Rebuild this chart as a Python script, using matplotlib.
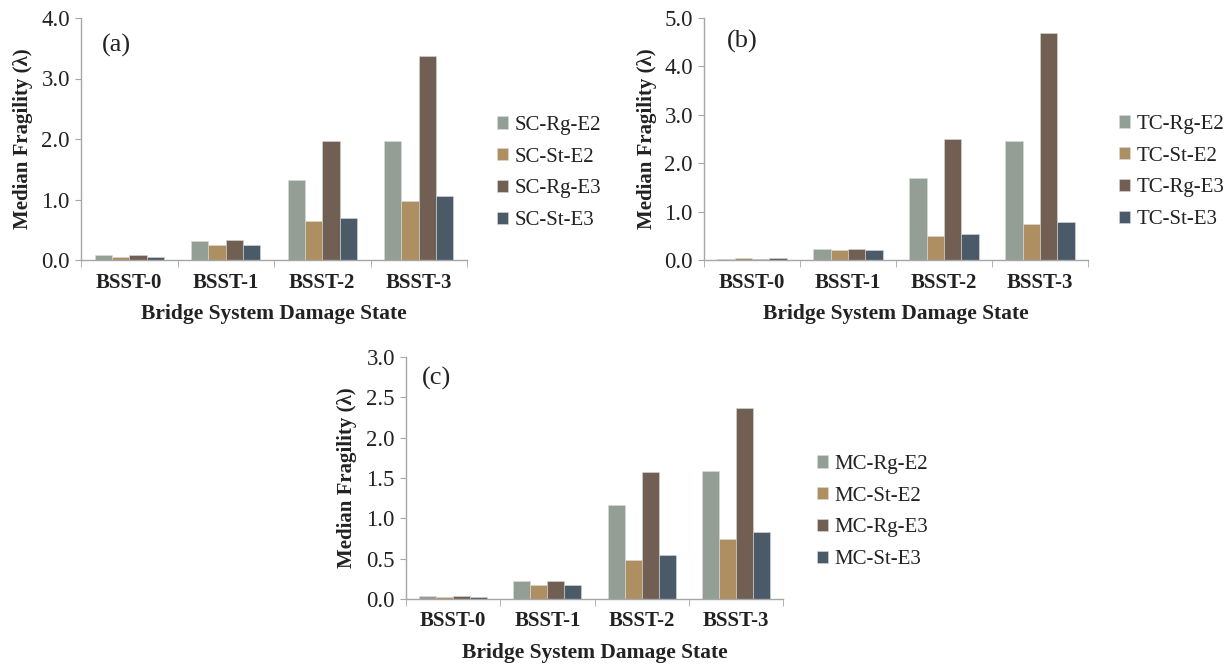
import matplotlib.pyplot as plt
import numpy as np

plt.rcParams['font.family'] = ['Liberation Serif', 'DejaVu Serif']

states = ['BSST-0', 'BSST-1', 'BSST-2', 'BSST-3']
colors = ['#939f94', '#ae8f62', '#715f53', '#4b5a69']

# ======= (a) single column ======= #
sc_names = ['SC-Rg-E2', 'SC-St-E2', 'SC-Rg-E3', 'SC-St-E3']
sc_rg_e2 = [0.08, 0.31, 1.32, 1.97]
sc_st_e2 = [0.05, 0.25, 0.64, 0.97]
sc_rg_e3 = [0.08, 0.33, 1.96, 3.37]
sc_st_e3 = [0.05, 0.25, 0.70, 1.06]

# ======= (b) two column ======= #
tc_names = ['TC-Rg-E2', 'TC-St-E2', 'TC-Rg-E3', 'TC-St-E3']
tc_rg_e2 = [0.03, 0.22, 1.69, 2.46]
tc_st_e2 = [0.05, 0.20, 0.49, 0.74]
tc_rg_e3 = [0.03, 0.22, 2.51, 4.68]
tc_st_e3 = [0.05, 0.20, 0.53, 0.79]

# ======= (c) multi column ======= #
mc_names = ['MC-Rg-E2', 'MC-St-E2', 'MC-Rg-E3', 'MC-St-E3']
mc_rg_e2 = [0.04, 0.22, 1.16, 1.59]
mc_st_e2 = [0.02, 0.17, 0.48, 0.75]
mc_rg_e3 = [0.04, 0.22, 1.58, 2.37]
mc_st_e3 = [0.02, 0.17, 0.54, 0.83]

fig = plt.figure(figsize=(12.26, 6.68), dpi=100)

W, H = 1226.0, 668.0
# pixel boxes: left, top, right, bottom
panels = [
    dict(box=(81, 18, 467, 260), names=sc_names, data=[sc_rg_e2, sc_st_e2, sc_rg_e3, sc_st_e3],
         ymax=4.0, step=1.0, label='(a)', lab_xy=(0.093, 0.888), leg=(497, 173), ylab=-0.124),
    dict(box=(704, 18, 1088, 260), names=tc_names, data=[tc_rg_e2, tc_st_e2, tc_rg_e3, tc_st_e3],
         ymax=5.0, step=1.0, label='(b)', lab_xy=(0.10, 0.905), leg=(1119, 172), ylab=-0.122),
    dict(box=(406, 357, 783, 599), names=mc_names, data=[mc_rg_e2, mc_st_e2, mc_rg_e3, mc_st_e3],
         ymax=3.0, step=0.5, label='(c)', lab_xy=(0.082, 0.913), leg=(817, 512), ylab=-0.130),
]

x = np.arange(len(states))
w = 0.18
txt = '#222222'
spine = '#a6a6a6'

for p in panels:
    l, t, r, b = p['box']
    ax = fig.add_axes([l / W, 1 - b / H, (r - l) / W, (b - t) / H])
    for i, vals in enumerate(p['data']):
        ax.bar(x + (i - 1.5) * w, vals, w, color=colors[i], label=p['names'][i],
               edgecolor='#d9d9d9', linewidth=0.4)

    ax.set_xlim(-0.5, 3.5)
    ax.set_ylim(0, p['ymax'])
    ax.set_yticks(np.arange(0, p['ymax'] + 0.001, p['step']))
    ax.set_yticklabels(['%.1f' % v for v in ax.get_yticks()], fontsize=16.5, color=txt)
    ax.set_xticks(x)
    ax.set_xticklabels(states, fontsize=15, fontweight='bold', color=txt)
    ax.set_xticks(np.arange(-0.5, 4.0, 1.0), minor=True)
    ax.tick_params(axis='x', which='major', length=0, pad=9)
    ax.tick_params(axis='x', which='minor', length=5, color=spine, direction='out')
    ax.tick_params(axis='y', length=4, color=spine, pad=4)

    for s in ['top', 'right']:
        ax.spines[s].set_visible(False)
    for s in ['left', 'bottom']:
        ax.spines[s].set_color(spine)
        ax.spines[s].set_linewidth(1.0)

    ax.set_ylabel('Median Fragility (λ)', fontsize=15, fontweight='bold', color=txt)
    ax.yaxis.set_label_coords(p['ylab'], 0.5)
    ax.set_xlabel('Bridge System Damage State', fontsize=15.5, fontweight='bold', color=txt)
    ax.xaxis.set_label_coords(0.5, -0.18)

    ax.text(p['lab_xy'][0], p['lab_xy'][1], p['label'], transform=ax.transAxes,
            fontsize=19, color=txt, ha='center', va='center')

    lx, ly = p['leg']
    ax.legend(loc='center left', bbox_to_anchor=(lx / W, 1 - ly / H),
              bbox_transform=fig.transFigure, frameon=False, fontsize=15,
              handlelength=0.55, handleheight=0.55, handletextpad=0.3,
              labelspacing=0.62, borderpad=0, borderaxespad=0, labelcolor=txt)

fig.savefig('out.png', dpi=100)
